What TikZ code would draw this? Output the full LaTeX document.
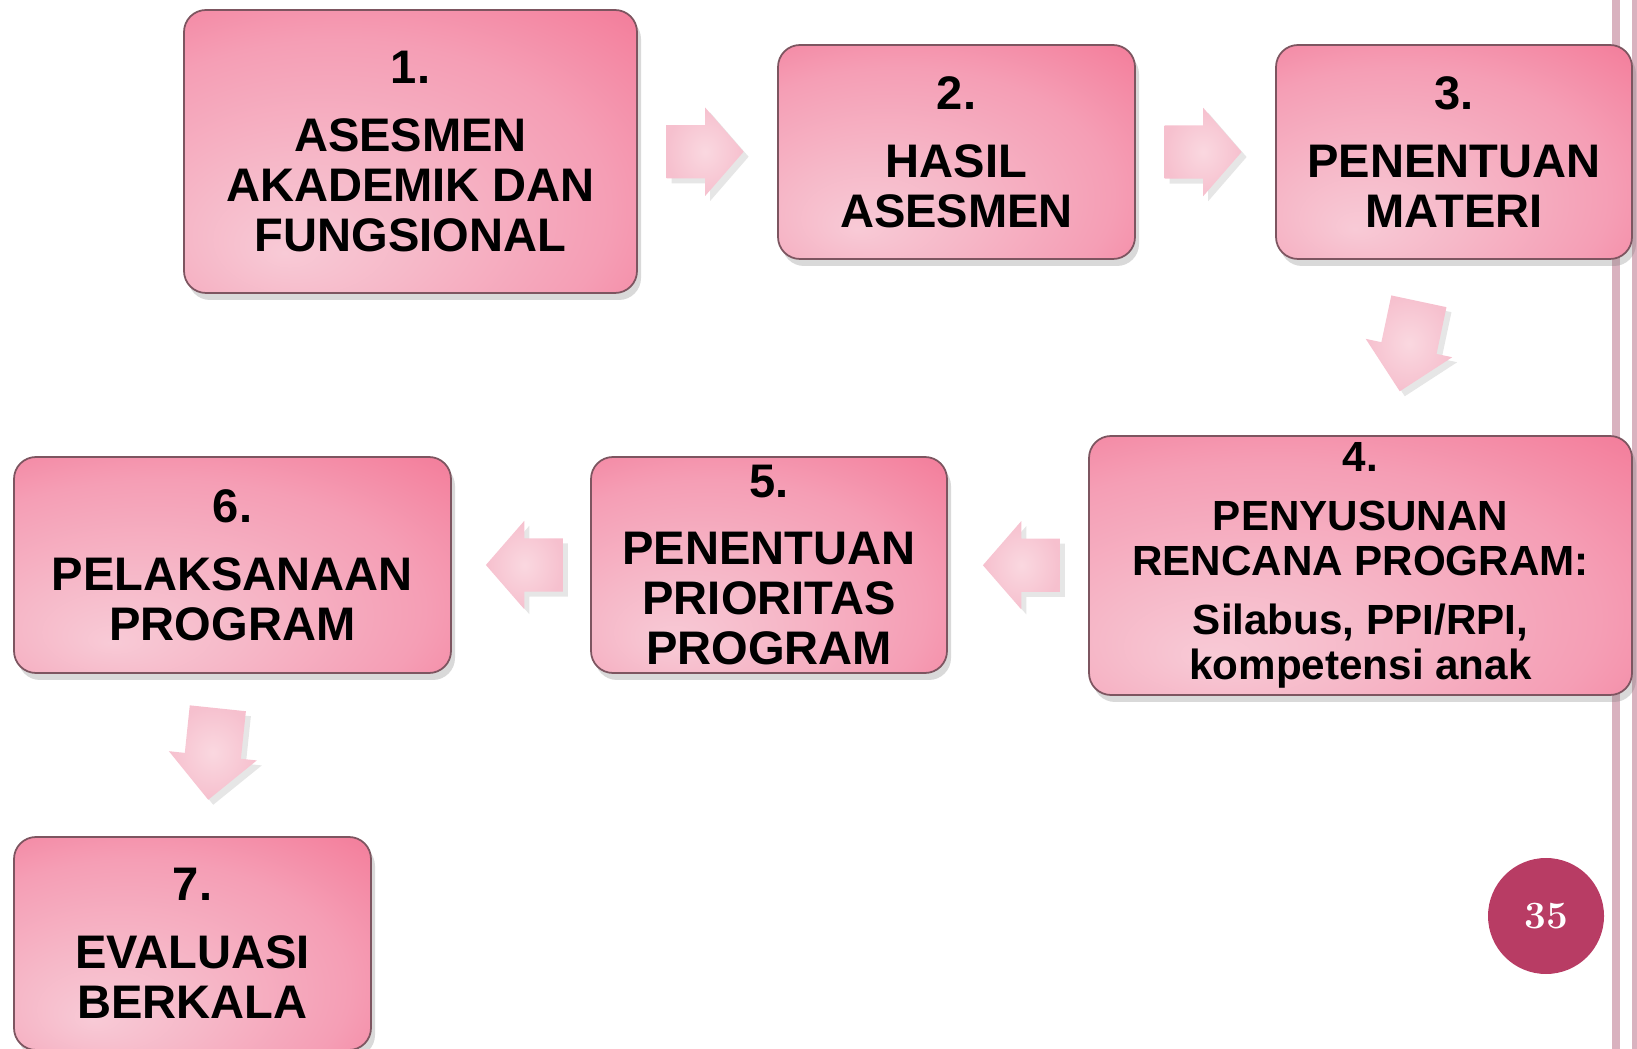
\documentclass[tikz,border=0pt]{standalone}
\usepackage{fontspec}
\newfontfamily\boxfont{Liberation Sans}
\usetikzlibrary{shapes.arrows,shadows,calc}

\definecolor{boxlight}{RGB}{248,202,214}
\definecolor{boxsoft}{RGB}{246,184,200}
\definecolor{boxmid}{RGB}{245,158,181}
\definecolor{boxdark}{RGB}{243,122,152}
\definecolor{boxdeep}{RGB}{242,110,144}
\definecolor{boxedge}{RGB}{125,85,96}
\definecolor{arrowpink}{RGB}{246,192,206}
\definecolor{arrowlight}{RGB}{250,216,224}
\definecolor{sideline}{RGB}{217,178,191}
\definecolor{pagecircle}{RGB}{184,60,100}

\pgfdeclareradialshading{boxfade}{\pgfpoint{-14bp}{-18bp}}{%
  color(0bp)=(boxlight); color(13bp)=(boxsoft); color(30bp)=(boxmid);
  color(45bp)=(boxdark); color(70bp)=(boxdeep)}

\begin{document}
\begin{tikzpicture}[
    stage/.style={shade, shading=boxfade, draw=boxedge, line width=0.5pt,
        rounded corners=0.22cm, inner sep=0pt, align=center,
        drop shadow={opacity=0.3, shadow xshift=0.4mm, shadow yshift=-0.7mm},
        font=\boxfont\bfseries\fontsize{13.4}{14.2}\selectfont},
    flow/.style={single arrow, shade, inner color=arrowlight, outer color=arrowpink,
        inner xsep=0pt, inner ysep=0.26cm,
        minimum height=0.77cm, single arrow head extend=0.175cm,
        single arrow tip angle=98, single arrow head indent=0pt,
        drop shadow={opacity=0.2, shadow xshift=0.5mm, shadow yshift=-0.5mm}},
    flowdown/.style={flow, inner ysep=0.275cm, minimum height=0.92cm,
        single arrow head extend=0.16cm, single arrow tip angle=90}
]
    \useasboundingbox (0,0) rectangle (16.37,-10.49);

    % Draw the side lines of the slide
    \fill[sideline] (16.12,0) rectangle (16.20,-10.49);
    \fill[sideline] (16.32,0) rectangle (16.40,-10.49);

    % Draw the steps
    \node[stage, minimum width=4.53cm, minimum height=2.83cm] (b1) at (4.105,-1.515)
        {1.\\[5.1pt]ASESMEN\\AKADEMIK DAN\\FUNGSIONAL};
    \node[stage, minimum width=3.57cm, minimum height=2.14cm] (b2) at (9.565,-1.52)
        {2.\\[5.1pt]HASIL\\ASESMEN};
    \node[stage, minimum width=3.56cm, minimum height=2.14cm] (b3) at (14.54,-1.52)
        {3.\\[5.1pt]PENENTUAN\\MATERI};
    \node[stage, minimum width=5.43cm, minimum height=2.59cm,
        font=\boxfont\bfseries\fontsize{12}{12.9}\selectfont] (b4) at (13.605,-5.655)
        {4.\\[3.8pt]PENYUSUNAN\\RENCANA PROGRAM:\\[3.8pt]Silabus, PPI/RPI,\\kompetensi anak};
    \node[stage, minimum width=3.56cm, minimum height=2.16cm] (b5) at (7.69,-5.65)
        {5.\\[5.1pt]PENENTUAN\\PRIORITAS\\PROGRAM};
    \node[stage, minimum width=4.37cm, minimum height=2.16cm] (b6) at (2.325,-5.65)
        {6.\\[5.1pt]PELAKSANAAN\\PROGRAM};
    \node[stage, minimum width=3.57cm, minimum height=2.13cm] (b7) at (1.925,-9.435)
        {7.\\[5.1pt]EVALUASI\\BERKALA};

    % Block arrows between the steps
    \node[flow] (a12) at ($(b1.east)!0.5!(b2.west)+(-0.14,0)$) {};
    \node[flow] (a23) at ($(b2.east)!0.5!(b3.west)+(-0.14,0)$) {};
    \node[flowdown, rotate=258] (a34) at ($(b3.south)!0.5!(b4.north)+(0.05,0.15)$) {};
    \node[flow, rotate=180] (a45) at ($(b4.west)!0.5!(b5.east)+(0.15,0)$) {};
    \node[flow, rotate=180] (a56) at ($(b5.west)!0.5!(b6.east)+(0.15,0)$) {};
    \node[flowdown, rotate=264] (a67) at ($(b6.south)!0.5!(b7.north)+(0.02,0.15)$) {};

    % Page number
    \node[circle, fill=pagecircle, minimum size=1.16cm, inner sep=0pt, text=white,
        font=\bfseries\fontsize{11}{13}\selectfont] (page) at (15.46,-9.16) {35};

\end{tikzpicture}
\end{document}
